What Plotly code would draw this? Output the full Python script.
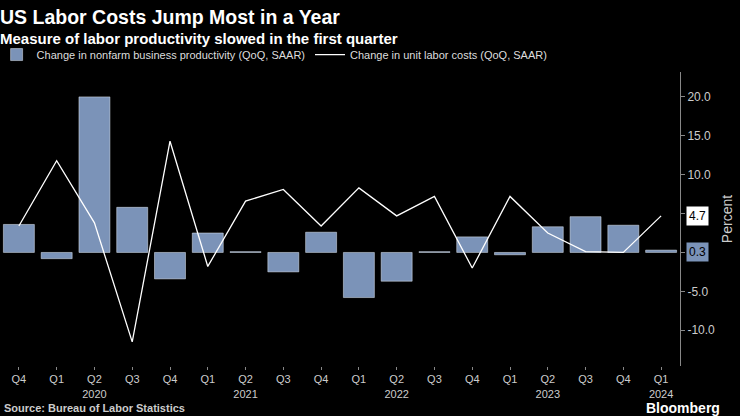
import plotly.graph_objects as go

quarters = ["Q4 2019", "Q1 2020", "Q2 2020", "Q3 2020", "Q4 2020", "Q1 2021", "Q2 2021", "Q3 2021",
            "Q4 2021", "Q1 2022", "Q2 2022", "Q3 2022", "Q4 2022", "Q1 2023", "Q2 2023", "Q3 2023",
            "Q4 2023", "Q1 2024"]
tick_text = ["Q4", "Q1", "Q2<br>2020", "Q3", "Q4", "Q1", "Q2<br>2021", "Q3", "Q4", "Q1", "Q2<br>2022",
             "Q3", "Q4", "Q1", "Q2<br>2023", "Q3", "Q4", "Q1<br>2024"]
productivity = [3.6, -0.8, 20.0, 5.8, -3.4, 2.5, 0.1, -2.5, 2.6, -5.8, -3.7, 0.1, 2.0, -0.3, 3.3, 4.6, 3.5, 0.3]
unit_labor = [3.4, 11.8, 3.8, -11.5, 14.3, -1.8, 6.6, 8.1, 3.4, 8.3, 4.7, 7.2, -2.0, 7.2, 2.5, 0.1, 0.0, 4.7]

bar_color = "#7b93b8"

fig = go.Figure()
fig.add_trace(go.Bar(x=quarters, y=productivity, name="Change in nonfarm business productivity (QoQ, SAAR)",
                     marker_color=bar_color, width=0.82))
fig.add_trace(go.Scatter(x=quarters, y=unit_labor, name="Change in unit labor costs (QoQ, SAAR)",
                         mode="lines", line=dict(color="white", width=1.3)))

fig.add_annotation(x=1, xref="paper", xanchor="left", y=unit_labor[-1], yref="y", text=f"{unit_labor[-1]}",
                   showarrow=False, bgcolor="white", font=dict(color="black", size=12), borderpad=2, xshift=6)
fig.add_annotation(x=1, xref="paper", xanchor="left", y=productivity[-1] - 0.3, yref="y", text=f"{productivity[-1]}",
                   showarrow=False, bgcolor=bar_color, font=dict(color="black", size=12), borderpad=2, xshift=6)

fig.update_layout(
    width=740, height=416,
    paper_bgcolor="black", plot_bgcolor="black",
    font=dict(family="Liberation Sans, Arial", color="#cccccc", size=12),
    margin=dict(l=0, r=60, t=72, b=50, autoexpand=False),
    bargap=0.18,
    legend=dict(orientation="h", x=-0.005, y=1.01, xanchor="left", yanchor="bottom",
                font=dict(size=11, color="#dddddd"), bgcolor="rgba(0,0,0,0)",
                traceorder="normal"),
    showlegend=True,
    xaxis=dict(tickvals=quarters, ticktext=tick_text, showgrid=False, ticks="outside", ticklen=3,
               tickcolor="#888", tickfont=dict(size=11, color="#cccccc"), showline=False, automargin=False),
    yaxis=dict(side="right", range=[-14.6, 23.2], tickvals=[-10, -5, 0, 5, 10, 15, 20],
               ticktext=["-10.0", "-5.0", "", "5.0", "10.0", "15.0", "20.0"],
               showgrid=False, zeroline=False, showline=True, linecolor="#888", ticks="outside",
               ticklen=4, tickcolor="#888", tickfont=dict(size=12, color="#cccccc"), automargin=False,
               title=dict(text="Percent", font=dict(size=14, color="#cccccc"), standoff=8)),
)

fig.add_annotation(x=0, xref="paper", y=1.187, yref="paper", xanchor="left", yanchor="middle", xshift=-2,
                   text="<b>US Labor Costs Jump Most in a Year</b>", showarrow=False,
                   font=dict(size=19.5, color="white"))
fig.add_annotation(x=0, xref="paper", y=1.115, yref="paper", xanchor="left", yanchor="middle", xshift=-2,
                   text="<b>Measure of labor productivity slowed in the first quarter</b>", showarrow=False,
                   font=dict(size=15, color="white"))
fig.add_annotation(x=0, xref="paper", y=-0.143, yref="paper", xanchor="left", yanchor="middle", xshift=2,
                   text="<b>Source: Bureau of Labor Statistics</b>", showarrow=False,
                   font=dict(size=11, color="#cccccc"))
fig.add_annotation(x=1, xref="paper", y=-0.143, yref="paper", xanchor="right", yanchor="middle", xshift=42,
                   text="<b>Bloomberg</b>", showarrow=False, font=dict(size=14, color="white"))

fig.write_html("out.html", config={"displayModeBar": False},
               post_script="document.body.style.margin='0';document.body.style.overflow='hidden';")
